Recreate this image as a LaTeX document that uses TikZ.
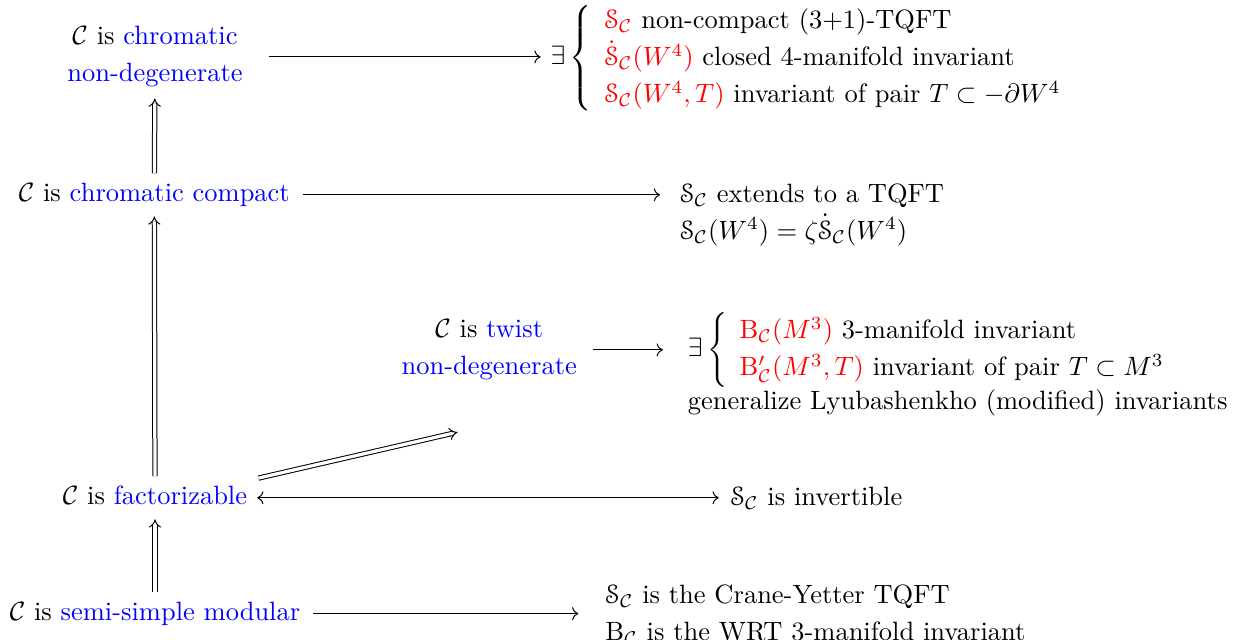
\RequirePackage{fix-cm}
\documentclass[tikz,border=0pt]{standalone}
\usepackage[mathscr]{euscript}
\usepackage{tikz}
\usetikzlibrary{arrows.meta,positioning,calc}
\newcommand{\catC}{\mathcal{C}}
\newcommand{\skS}{\mathscr{S}_{\catC}}
\newcommand{\skD}{\dot{\mathscr{S}}_{\catC}}
\tikzset{
  cond/.style={align=center,text height=1.6ex,text depth=0.3ex},
  cond2/.style={align=center},
  res/.style={anchor=west,align=left},
  arr/.style={->,shorten <=#1},
  arr/.default=2pt,
  imp/.style={double,double distance=1.3pt,-{Implies},shorten <=1pt,shorten >=1pt},
}
\renewcommand{\arraystretch}{1.17}

\begin{document}
\begin{tikzpicture}[font=\fontsize{10.6pt}{12.7pt}\selectfont]
        \useasboundingbox (0,0) rectangle (17.34,9.0);
        % conditions on C
        \node[cond2] (chnd) at (2.18,8.20) {$\catC$ is \textcolor{blue}{chromatic}\\[2pt] \textcolor{blue}{non-degenerate}};
        \node[cond] (chco) at (2.17,6.26) {$\catC$ is \textcolor{blue}{chromatic compact}};
        \node[cond2] (twnd) at (6.88,4.08) {$\catC$ is \textcolor{blue}{twist}\\[2pt] \textcolor{blue}{non-degenerate}};
        \node[cond] (fact) at (2.18,2.00) {$\catC$ is \textcolor{blue}{factorizable}};
        \node[cond] (ssmod) at (2.18,0.37) {$\catC$ is \textcolor{blue}{semi-simple modular}};
        % consequences
        \node[res] (rchnd) at (7.62,8.18) {$\exists\left\{\begin{array}{l}
            \textcolor{red}{\skS}\mbox{ non-compact (3+1)-TQFT}\\
            \textcolor{red}{\skD(W^4)}\mbox{ closed 4-manifold invariant}\\
            \textcolor{red}{\skS(W^4,T)}\mbox{ invariant of pair }T\subset-\partial W^4
          \end{array}\right.$};
        \node[res] (rchco) at (9.44,5.98) {$\skS$ extends to a TQFT\\[2pt] $\skS(W^4)=\zeta\skD(W^4)$};
        \node[res] (rtwnd) at (9.55,4.08) {$\exists\left\{\begin{array}{l}
            \textcolor{red}{\mathrm{B}_{\catC}(M^3)}\mbox{ 3-manifold invariant}\\
            \textcolor{red}{\mathrm{B}'_{\catC}(M^3,T)}\mbox{ invariant of pair }T\subset M^3
          \end{array}\right.$};
        \node[res] (rgen) at (9.55,3.33) {generalize Lyubashenkho (modified) invariants};
        \node[res] (rfact) at (10.15,2.00) {$\skS$ is invertible};
        \node[res] (rssmod) at (8.39,0.36) {$\skS$ is the Crane-Yetter TQFT\\[2pt] $\mathrm{B}_{\catC}$ is the WRT 3-manifold invariant};
        \coordinate (twin) at (6.47,2.93);
        % implications
        \draw[imp] (ssmod) -- (fact);
        \draw[imp] (fact) -- (chco);
        \draw[imp] (chco) -- (chnd);
        \draw[imp] (fact.north east) -- (twin);
        % results
        \draw[arr=7pt,shorten >=0.5pt] (chnd) -- (chnd -| rchnd.west);
        \draw[arr=1.6pt,shorten >=4.5pt] (chco) -- (chco -| rchco.west);
        \draw[arr=2.8pt,shorten >=6.5pt] (twnd) -- (rtwnd);
        \draw[<->,shorten <=0.5pt,shorten >=1.2pt] (fact) -- (rfact);
        \draw[arr=1.6pt,shorten >=7.3pt] (ssmod) -- (ssmod -| rssmod.west);
      \end{tikzpicture}
\end{document}
